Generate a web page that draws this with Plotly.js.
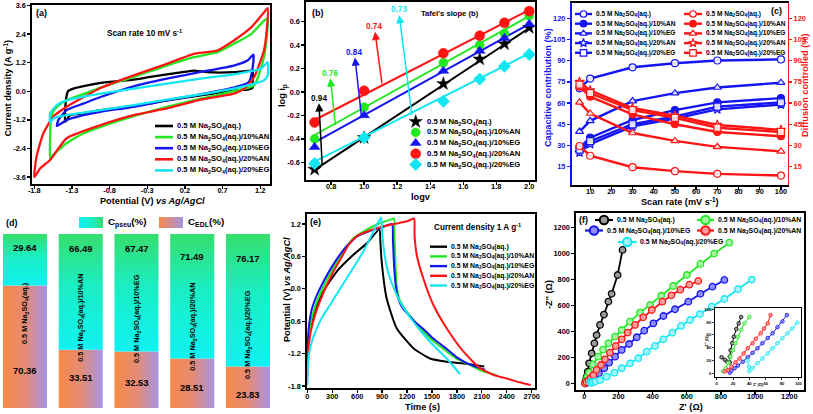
<!DOCTYPE html>
<html>
<head>
<meta charset="utf-8">
<script src="https://cdn.plot.ly/plotly-3.0.1.min.js"></script>
<style>
html,body{margin:0;padding:0;background:#fff;}
#chart{width:813px;height:414px;}
</style>
</head>
<body>
<div id="chart"></div>
<script>
// ===================== DATA =====================
const electrolytes = ['0.5 M Na2SO4(aq.)', '0.5 M Na2SO4(aq.)/10%AN', '0.5 M Na2SO4(aq.)/10%EG', '0.5 M Na2SO4(aq.)/20%AN', '0.5 M Na2SO4(aq.)/20%EG'];

// (a) cyclic voltammetry, 10 mV/s : potential (V) and current density (A/g)
const cvPotential0 = [-1.39,-1.38,-1.35,-1.28,-0.92,-0.48,-0.26,0.19,0.32,0.50,0.85,1.08,1.10, 1.10,1.10,1.05,0.85,0.41,-0.04,-0.26,-0.48,-0.92,-1.15,-1.32,-1.39];
const cvCurrent0   = [-1.28,-0.38,0.01,0.11,0.35,0.49,0.60,0.81,0.87,0.80,0.80,0.87,0.87, 0.46,0.15,0.08,0.04,-0.17,-0.38,-0.51,-0.62,-0.79,-0.93,-1.00,-1.28];
const cvPotential1 = [-1.59,-1.59,-1.58,-1.55,-1.48,-1.37,-1.15,-0.92,-0.70,-0.48,-0.25,-0.04,0.32,0.63,0.85,1.08,1.25,1.30, 1.29,1.25,1.12,0.85,0.41,-0.04,-0.48,-0.92,-1.15,-1.37,-1.55,-1.59];
const cvCurrent1   = [-2.85,-2.00,-1.20,-0.85,-0.60,-0.38,-0.12,0.15,0.38,0.60,0.85,1.08,1.43,1.64,1.99,2.40,2.96,3.03, 2.40,1.43,0.25,0.01,-0.31,-0.65,-1.04,-1.49,-1.77,-2.18,-2.67,-2.85];
const cvPotential2 = [-1.50,-1.48,-1.37,-1.15,-0.92,-0.48,-0.04,0.41,0.85,1.03,1.11, 1.10,1.05,0.85,0.41,-0.04,-0.48,-0.92,-1.15,-1.37,-1.50];
const cvCurrent2   = [-1.46,-1.21,-0.79,-0.52,-0.24,0.21,0.53,0.81,1.08,1.29,1.54, 1.00,0.39,0.15,-0.13,-0.38,-0.65,-0.86,-1.00,-1.21,-1.46];
const cvPotential3 = [-1.80,-1.77,-1.68,-1.55,-1.37,-1.15,-0.92,-0.48,-0.04,0.32,0.63,0.85,1.08,1.25,1.30, 1.29,1.25,1.12,0.99,0.85,0.41,-0.04,-0.48,-0.92,-1.37,-1.59,-1.72,-1.80];
const cvCurrent3   = [-3.60,-2.74,-1.77,-1.07,-0.65,-0.25,0.14,0.67,1.15,1.57,1.71,2.13,2.68,3.31,3.49, 2.68,1.71,0.60,0.11,-0.10,-0.35,-0.72,-1.00,-1.42,-1.97,-2.88,-3.23,-3.60];
const cvPotential4 = [-1.59,-1.59,-1.50,-1.37,-0.92,-0.48,-0.04,0.41,0.85,1.21,1.30, 1.30,1.25,1.12,0.85,0.41,-0.04,-0.48,-0.92,-1.37,-1.55,-1.59];
const cvCurrent4   = [-1.32,-0.93,-0.58,-0.38,-0.10,0.11,0.32,0.53,0.71,0.95,1.22, 0.67,0.46,0.32,0.11,-0.13,-0.35,-0.58,-0.79,-1.00,-1.14,-1.32];

// (b) log peak current vs log scan rate
const logScanRate = [0.70, 1.00, 1.48, 1.70, 1.85, 2.00];
const logIp0 = [-0.66,-0.39,0.07,0.28,0.41,0.55];
const logIp1 = [-0.40,-0.13,0.25,0.40,0.50,0.65];
const logIp2 = [-0.47,-0.20,0.18,0.35,0.46,0.58];
const logIp3 = [-0.26,0.01,0.33,0.48,0.59,0.69];
const logIp4 = [-0.61,-0.39,-0.08,0.11,0.22,0.32];
const fitLogV = [0.70, 2.00];
const fitLogIp0 = [-0.665, 0.545];
const fitLogIp1 = [-0.367, 0.648];
const fitLogIp2 = [-0.430, 0.580];
const fitLogIp3 = [-0.239, 0.700];
const fitLogIp4 = [-0.594, 0.330];
const tafelSlopes = [0.94, 0.76, 0.84, 0.74, 0.73];

// (c) capacitive / diffusion contribution (%)
const scanRates = [5, 10, 30, 50, 70, 100];
const capacitive0 = [70.4, 77.3, 85.3, 88.2, 90.1, 90.9];
const capacitive1 = [28.4, 35.5, 48.0, 55.0, 60.5, 63.5];
const capacitive2 = [39.8, 47.4, 61.4, 67.0, 71.0, 74.4];
const capacitive3 = [25.0, 31.0, 43.5, 49.0, 55.5, 59.0];
const capacitive4 = [27.0, 33.0, 45.0, 50.5, 57.5, 60.5];
const diffusion0 = [29.6, 22.7, 14.6, 11.8, 9.9, 8.7];
const diffusion1 = [71.6, 64.5, 52.0, 45.0, 39.5, 36.5];
const diffusion2 = [60.5, 52.6, 38.8, 33.2, 29.0, 25.8];
const diffusion3 = [75.0, 69.0, 56.5, 51.0, 44.5, 41.0];
const diffusion4 = [73.0, 67.0, 55.0, 49.5, 42.5, 39.5];

// (d) stacked contributions (%)
const cPseu = [29.64, 66.49, 67.47, 71.49, 76.17];
const cEDL  = [70.36, 33.51, 32.53, 28.51, 23.83];

// (e) galvanostatic charge-discharge, 1 A/g
const gcdTime0 = [0,12,72,193,353,554,714,867, 880,895,955,1075,1276,1476,1677,1918,2130];
const gcdPot0  = [-1.05,-0.92,-0.485,-0.05,0.32,0.63,0.84,1.10, 0.85,0.50,-0.18,-0.73,-1.10,-1.29,-1.35,-1.39,-1.44];
const gcdTime1 = [0,20,60,150,300,450,550,700,850,1000,1043, 1048,1060,1075,1110,1196,1300,1396,1500,1677,1800,1918,2100,2279];
const gcdPot1  = [-1.25,-0.85,-0.50,-0.10,0.35,0.72,0.93,1.08,1.20,1.28,1.30, 1.00,0.50,0.05,-0.20,-0.42,-0.62,-0.79,-0.95,-1.16,-1.30,-1.38,-1.52,-1.60];
const gcdTime2 = [0,15,50,120,200,300,450,600,750,900,1020, 1030,1045,1070,1110,1160,1230,1300,1400,1500,1650,1800,1950,2140];
const gcdPot2  = [-1.20,-0.75,-0.40,-0.10,0.15,0.42,0.75,0.97,1.07,1.14,1.20, 0.90,0.40,0.00,-0.25,-0.38,-0.50,-0.62,-0.75,-0.90,-1.08,-1.27,-1.40,-1.50];
const gcdTime3 = [0,10,40,100,200,300,400,500,600,750,900,1050,1200,1285, 1290,1316,1396,1517,1677,1877,2078,2250,2399,2550,2688];
const gcdPot3  = [-1.65,-1.20,-0.80,-0.45,-0.05,0.28,0.55,0.82,0.98,1.08,1.15,1.20,1.25,1.30, 1.00,0.63,0.19,-0.30,-0.73,-1.16,-1.47,-1.60,-1.66,-1.73,-1.78];
const gcdTime4 = [0,10,40,90,180,273,373,473,574,674,760,834,887, 895,915,950,995,1115,1276,1476,1677,1838];
const gcdPot4  = [-1.78,-1.35,-1.05,-0.82,-0.52,-0.30,-0.05,0.19,0.44,0.69,0.95,1.18,1.32, 1.15,0.81,0.45,0.19,-0.24,-0.61,-0.98,-1.29,-1.58];

// (f) Nyquist plots (ohm)
const zRe0 = [4,8,14,20,28,43,59,72,92,115,141,160,195,224];
const zIm0 = [0,21,51,89,154,231,308,372,450,530,630,690,835,1028];
const zRe1 = [4,10,18,28,50,82,110,141,180,219,267,326,385,450,520,600,680,760,849];
const zIm1 = [0,20,50,82,145,205,260,308,360,411,475,545,604,675,750,835,920,1000,1084];
const zRe2 = [8,15,25,40,60,86,117,145,180,219,262,307,351,404,463,531,609,680,750,820];
const zIm2 = [0,6,15,30,52,77,116,159,205,257,303,355,406,462,519,571,629,690,745,797];
const zRe3 = [4,12,25,38,53,72,98,121,150,184,219,254,297,345,395,457,510,562,615,667];
const zIm3 = [0,10,25,42,64,103,141,185,236,288,339,391,450,509,565,629,678,722,760,789];
const zRe4 = [35,40,50,65,92,131,176,219,268,316,365,414,463,515,566,619,677,746,820,900,980];
const zIm4 = [10,3,8,15,25,51,82,116,154,193,244,288,339,390,442,488,534,591,650,725,800];
// (f) inset, low-impedance region
const zReIn0 = [6,10,13,16,16,17,19,21,24,27,30];
const zImIn0 = [25,21,18,17,26,36,47,57,69,78,88];
const zReIn1 = [8,11,14,17,20,23,26,30,34,40];
const zImIn1 = [3,8,16,26,36,47,57,68,78,88];
const zReIn2 = [16,18,22,26,32,38,44,50,56,62.5,68.5,74.5,80.6,86];
const zImIn2 = [1,4,8,12,18,25,32,39,47,55,62.5,72,81,91];
const zReIn3 = [10,14,18,23,28,33,38,44,48,54,58,62.5,66];
const zImIn3 = [3,5,10,17,23,31,39,47,54,62.5,70,78,91];
const zReIn4 = [38,39.5,40,44,50,56,62.5,68.5,74.5,80.6,86.7,92.7,98.8];
const zImIn4 = [20,10,3,8,16,23,31,39,47,55,62.5,70,79];

// tick values
const ticksAx = [-1.8,-1.3,-0.8,-0.3,0.2,0.7,1.2];
const ticksAy = [-3.6,-2.4,-1.2,0.0,1.2,2.4,3.6];
const ticksBx = [0.8,1.0,1.2,1.4,1.6,1.8,2.0];
const ticksBy = [-0.6,-0.4,-0.2,0.0,0.2,0.4,0.6];
const ticksCx = [10,20,30,40,50,60,70,80,90,100];
const ticksCy = [15,30,45,60,75,90,105,120];
const ticksEx = [0,300,600,900,1200,1500,1800,2100,2400,2700];
const ticksEy = [-1.8,-1.2,-0.6,0.0,0.6,1.2];
const ticksFx = [0,200,400,600,800,1000,1200];
const ticksFy = [0,200,400,600,800,1000,1200];
const ticksInset = [0,20,40,60,80,100];

// ===================== STYLE / LAYOUT =====================
const W = 813, H = 414;
function hasFont(name){
  const ctx = document.createElement('canvas').getContext('2d');
  const s = 'Mm0.5 Na2SO4(aq.)/10%ANwi';
  ctx.font = 'bold 40px monospace'; const a = ctx.measureText(s).width;
  ctx.font = 'bold 40px "' + name + '", monospace'; const b = ctx.measureText(s).width;
  return Math.abs(a - b) > 0.5;
}
const NARROW = hasFont('Liberation Sans Narrow');
const FF = NARROW ? '"Liberation Sans Narrow", "Liberation Sans", Arial, sans-serif' : '"Liberation Sans", Arial, sans-serif';
const K = NARROW ? 1 : 0.82;
const fnt = (size, color) => ({family: FF, size: +(size * K).toFixed(2), color: color || '#000', weight: 'bold'});
const xd = (l, r) => [l / W, r / W];
const yd = (t, b) => [1 - b / H, 1 - t / H];
// sub/superscript as styled spans (smaller size, shifted baseline)
const SB = (t, size) => '<span style="font-size:' + (size * 0.7 * K).toFixed(1) + 'px;baseline-shift:-' + (size * 0.2 * K).toFixed(1) + 'px">' + t + '</span>';
const SP = (t, size) => '<span style="font-size:' + (size * 0.7 * K).toFixed(1) + 'px;baseline-shift:' + (size * 0.38 * K).toFixed(1) + 'px">' + t + '</span>';
const sub = (s, size) => s.replace('Na2SO4', 'Na' + SB('2', size) + 'SO' + SB('4', size));

const BLUE = '#1414f4', RED = '#ff1414';
const COLORS = ['#000000', '#22e822', '#1414f0', '#ff1414', '#12e6f2'];
const LIGHT = ['#9a9a9a', '#a6f4a6', '#8e8eff', '#ff9c9c', '#a6f4fa'];

function axis(domain, range, tickvals, digits, extra) {
  return Object.assign({
    domain: domain, range: range, tickvals: tickvals,
    ticktext: tickvals.map(v => v.toFixed(digits)),
    showgrid: false, zeroline: false, showline: true, mirror: true,
    linecolor: '#000', linewidth: 1.6, ticks: 'outside', ticklen: 3, tickwidth: 1.3,
    tickcolor: '#000', tickfont: fnt(9), fixedrange: true, automargin: false
  }, extra || {});
}

const traces = [];
const annotations = [];
function text(x, y, t, size, color, opts) {
  annotations.push(Object.assign({xref: 'x9', yref: 'y9', x: x, y: y, text: t, showarrow: false,
    xanchor: 'center', yanchor: 'middle', font: fnt(size, color)}, opts || {}));
}
function legLine(x0, x1, y, color, width) {
  traces.push({type: 'scatter', xaxis: 'x9', yaxis: 'y9', x: [x0, x1], y: [y, y], mode: 'lines',
    line: {color: color, width: width}, hoverinfo: 'skip', showlegend: false});
}
function legMarker(x, y, symbol, size, fill, edge, ew) {
  traces.push({type: 'scatter', xaxis: 'x9', yaxis: 'y9', x: [x], y: [y], mode: 'markers',
    marker: {symbol: symbol, size: size, color: fill, line: {color: edge, width: ew}}, hoverinfo: 'skip', showlegend: false});
}

// ---------- (a) ----------
const cvP = [cvPotential0, cvPotential1, cvPotential2, cvPotential3, cvPotential4];
const cvI = [cvCurrent0, cvCurrent1, cvCurrent2, cvCurrent3, cvCurrent4];
cvP.forEach((p, i) => traces.push({type: 'scatter', xaxis: 'x', yaxis: 'y', x: p, y: cvI[i], mode: 'lines',
  line: {color: COLORS[i], width: 2.3, shape: 'spline', smoothing: 0.5}, hoverinfo: 'skip'}));
[126, 137.1, 148.2, 159.3, 170.4].forEach((y, i) => {
  legLine(155, 173, y, COLORS[i], 2.6);
  text(175, y, sub(electrolytes[i], 9.3), 9.3, '#000', {xanchor: 'left'});
});
text(41, 13, '(a)', 11);
text(144, 33, 'Scan rate 10 mV s' + SP('-1', 10), 10);
text(7.5, 88, 'Current density (A g' + SP('-1', 11.2) + ')', 11.2, '#000', {textangle: -90});
text(152, 201, 'Potential (V) <i>vs Ag/AgCl</i>', 11.2);

// ---------- (b) ----------
const logIp = [logIp0, logIp1, logIp2, logIp3, logIp4];
const fits = [fitLogIp0, fitLogIp1, fitLogIp2, fitLogIp3, fitLogIp4];
const bSymbols = ['star', 'circle', 'triangle-up', 'circle', 'diamond'];
const bSizes = [10, 9, 9.5, 10, 9.5];
fits.forEach((f, i) => traces.push({type: 'scatter', xaxis: 'x2', yaxis: 'y2', x: fitLogV, y: f, mode: 'lines',
  line: {color: COLORS[i], width: 2}, hoverinfo: 'skip'}));
logIp.forEach((v, i) => traces.push({type: 'scatter', xaxis: 'x2', yaxis: 'y2', x: logScanRate, y: v, mode: 'markers',
  marker: {symbol: bSymbols[i], size: bSizes[i], color: COLORS[i], line: {color: COLORS[i], width: 0.5}}, hoverinfo: 'skip'}));
[121.7, 132.4, 143.1, 153.8, 164.5].forEach((y, i) => {
  legMarker(415.7, y, bSymbols[i], bSizes[i], COLORS[i], COLORS[i], 0.5);
  text(425, y, sub(electrolytes[i], 9.4), 9.4, '#000', {xanchor: 'left'});
});
// slope labels with arrows from the fit line: [tail x, tail y (on fit line), label x, label y]
const arrowGeom = [[0.746,-0.623,0.725,-0.054],[0.826,-0.281,0.792,0.159],
  [0.983,-0.196,0.941,0.338],[1.108,0.074,1.062,0.557],[1.289,-0.196,1.209,0.700]];
tafelSlopes.forEach((s, i) => {
  const g = arrowGeom[i];
  annotations.push({xref: 'x2', yref: 'y2', axref: 'x2', ayref: 'y2', x: g[0], y: g[1], ax: g[2], ay: g[3],
    text: s.toFixed(2), showarrow: true, arrowside: 'start', arrowhead: 2, startarrowhead: 2, startarrowsize: 1.1, arrowsize: 1.1,
    arrowwidth: 1.5, arrowcolor: COLORS[i], standoff: 0, startstandoff: 0, borderpad: 0, font: fnt(10, COLORS[i])});
});
text(318, 13, '(b)', 11);
text(450, 13, "Tafel's slope (b)", 9.3);
text(283, 96, 'log i' + SB('p', 11.2), 11.2, '#000', {textangle: -90});
text(421, 197, 'logv', 11.2);

// ---------- (c) ----------
const capacitive = [capacitive0, capacitive1, capacitive2, capacitive3, capacitive4];
const diffusion = [diffusion0, diffusion1, diffusion2, diffusion3, diffusion4];
const cSymbols = ['circle', 'circle', 'triangle-up', 'star', 'square'];
const cOpen = [true, false, true, true, true];
function cTrace(y, i, color, yaxis) {
  traces.push({type: 'scatter', xaxis: 'x3', yaxis: yaxis, x: scanRates, y: y, mode: 'lines+markers',
    line: {color: color, width: 2.4},
    marker: {symbol: cSymbols[i], size: 7, color: cOpen[i] ? 'rgba(255,255,255,0.85)' : color, line: {color: color, width: 1.2}},
    hoverinfo: 'skip'});
}
capacitive.forEach((v, i) => cTrace(v, i, BLUE, 'y3'));
diffusion.forEach((v, i) => cTrace(v, i, RED, 'y4'));
[14, 23.7, 33.4, 43.1, 52.8].forEach((y, i) => {
  [[575, 592, 594, BLUE], [684, 702, 703.5, RED]].forEach(c => {
    legLine(c[0], c[1], y, c[3], 2.4);
    legMarker((c[0] + c[1]) / 2, y, cSymbols[i], 6.5, cOpen[i] ? '#fff' : c[3], c[3], 1.2);
    text(c[2], y, sub(electrolytes[i], 8.0), 8.0, '#000', {xanchor: 'left'});
  });
});
text(776, 11, '(c)', 11);
text(548, 88, 'Capacitive contribution (%)', 11.2, BLUE, {textangle: -90});
text(805, 86, 'Diffusion controlled (%)', 11.2, RED, {textangle: -90});
text(680, 201, 'Scan rate (mV s' + SP('-1', 11.2) + ')', 11.2);

// ---------- (d) ----------
const PSEU_SCALE = [[0, '#10f2f2'], [0.55, '#1aeec4'], [1, '#36de6c']];
const EDL_SCALE = [[0, '#f68a48'], [0.5, '#e68c74'], [1, '#a694e2']];
const HW = 0.395;
cEDL.forEach((e, i) => {
  const top = e + cPseu[i];
  traces.push({type: 'scatter', xaxis: 'x5', yaxis: 'y5', x: [i - HW, i + HW, i + HW, i - HW, i - HW], y: [0, 0, e, e, 0],
    mode: 'lines', line: {width: 0, color: 'rgba(0,0,0,0)'}, fill: 'toself', fillcolor: '#e88c70',
    fillgradient: {type: 'horizontal', colorscale: EDL_SCALE}, hoverinfo: 'skip'});
  traces.push({type: 'scatter', xaxis: 'x5', yaxis: 'y5', x: [i - HW, i + HW, i + HW, i - HW, i - HW], y: [e, e, top, top, e],
    mode: 'lines', line: {width: 0, color: 'rgba(0,0,0,0)'}, fill: 'toself', fillcolor: '#1aeec4',
    fillgradient: {type: 'vertical', colorscale: PSEU_SCALE}, hoverinfo: 'skip'});
});
const dTopY = [92.5, 91.4, 91.4, 86.8, 86.2];
const dBotY = [21.3, 17.8, 14.4, 11.5, 7.5];
const dMidY = [54.6, 51.7, 51.4, 46.8, 42.5];
cPseu.forEach((v, i) => {
  annotations.push({xref: 'x5', yref: 'y5', x: i, y: dTopY[i], text: v.toFixed(2), showarrow: false, font: fnt(11.5)});
  annotations.push({xref: 'x5', yref: 'y5', x: i, y: dBotY[i], text: cEDL[i].toFixed(2), showarrow: false, font: fnt(11.5)});
  annotations.push({xref: 'x5', yref: 'y5', x: i, y: dMidY[i], text: sub(electrolytes[i], 8.9), textangle: -90, showarrow: false, font: fnt(8.9)});
});
// legend swatches
[[79, 103, PSEU_SCALE, 'C' + SB('pseu', 12) + '(%)', 106], [159, 183, [[0, '#f68a48'], [1, '#a694e2']], 'C' + SB('EDL', 12) + '(%)', 186]].forEach(s => {
  traces.push({type: 'scatter', xaxis: 'x9', yaxis: 'y9', x: [s[0], s[1], s[1], s[0], s[0]], y: [217, 217, 228, 228, 217],
    mode: 'lines', line: {width: 0, color: 'rgba(0,0,0,0)'}, fill: 'toself', fillcolor: s[2][0][1],
    fillgradient: {type: 'horizontal', colorscale: s[2]}, hoverinfo: 'skip'});
  text(s[4], 222, s[3], 12, '#000', {xanchor: 'left'});
});
text(12, 223, '(d)', 11);

// ---------- (e) ----------
const gcdT = [gcdTime0, gcdTime1, gcdTime2, gcdTime3, gcdTime4];
const gcdV = [gcdPot0, gcdPot1, gcdPot2, gcdPot3, gcdPot4];
gcdT.forEach((t, i) => traces.push({type: 'scatter', xaxis: 'x6', yaxis: 'y6', x: t, y: gcdV[i], mode: 'lines',
  line: {color: COLORS[i], width: 2, shape: 'spline', smoothing: 0.5}, hoverinfo: 'skip'}));
[246.7, 256.4, 266.1, 275.8, 285.5].forEach((y, i) => {
  legLine(430, 447, y, COLORS[i], 2.4);
  text(449, y, sub(electrolytes[i], 8.4), 8.4, '#000', {xanchor: 'left'});
});
text(315, 222, '(e)', 11);
text(477, 227, 'Current density 1 A g' + SP('-1', 10), 10);
text(287, 290, 'Potential (V) <i>vs Ag/AgCl</i>', 11.2, '#000', {textangle: -90});
text(422, 407, 'Time (s)', 11.2);

// ---------- (f) ----------
const zRe = [zRe0, zRe1, zRe2, zRe3, zRe4];
const zIm = [zIm0, zIm1, zIm2, zIm3, zIm4];
const zReIn = [zReIn0, zReIn1, zReIn2, zReIn3, zReIn4];
const zImIn = [zImIn0, zImIn1, zImIn2, zImIn3, zImIn4];
zRe.forEach((x, i) => traces.push({type: 'scatter', xaxis: 'x7', yaxis: 'y7', x: x, y: zIm[i], mode: 'lines+markers',
  line: {color: COLORS[i], width: 1.8}, marker: {symbol: 'circle', size: 6.5, color: LIGHT[i], line: {color: COLORS[i], width: 1.3}},
  hoverinfo: 'skip'}));
zReIn.forEach((x, i) => traces.push({type: 'scatter', xaxis: 'x8', yaxis: 'y8', x: x, y: zImIn[i], mode: 'lines+markers',
  line: {color: COLORS[i], width: 1}, marker: {symbol: 'circle', size: 3.6, color: LIGHT[i], line: {color: COLORS[i], width: 0.8}},
  hoverinfo: 'skip'}));
// legend: [line x0, line x1, text x, y]
const fLeg = [[595, 613, 615, 220], [697, 714, 716, 220], [585, 603, 605, 230.5], [697, 714, 716, 230.5], [618, 636.5, 638, 242]];
fLeg.forEach((g, i) => {
  legLine(g[0], g[1], g[3], COLORS[i], 2.2);
  legMarker((g[0] + g[1]) / 2, g[3], 'circle', 8.5, LIGHT[i], COLORS[i], 2);
  text(g[2], g[3], sub(electrolytes[i], 8.4), 8.4, '#000', {xanchor: 'left'});
});
text(583, 220, '(f)', 11);
text(549, 295, "-Z'' (Ω)", 11.2, '#000', {textangle: -90});
text(691, 407, "Z' (Ω)", 11.2);
text(758, 384.5, "Z' (Ω)", 4.8);
text(706, 342, "-Z'' (Ω)", 4.8, '#000', {textangle: -90});

// ---------- layout ----------
const inAx = {linewidth: 1, ticklen: 2, tickwidth: 0.8, tickfont: fnt(5)};
const layout = {
  width: W, height: H, margin: {l: 0, r: 0, t: 0, b: 0, pad: 0},
  paper_bgcolor: '#ffffff', plot_bgcolor: 'rgba(0,0,0,0)', showlegend: false,
  font: {family: FF, color: '#000'},
  xaxis: axis(xd(32, 270), [-1.83, 1.33], ticksAx, 1, {anchor: 'y', ticklabelstandoff: -4}),
  yaxis: axis(yd(5, 184), [-3.89, 3.62], ticksAy, 1, {anchor: 'x'}),
  xaxis2: axis(xd(306, 535), [0.648, 2.035], ticksBx, 1, {anchor: 'y2', ticklabelstandoff: -4}),
  yaxis2: axis(yd(2, 180), [-0.751, 0.768], ticksBy, 1, {anchor: 'x2'}),
  xaxis3: axis(xd(571.5, 787.5), [1.2, 103.1], ticksCx, 0, {anchor: 'y3', ticklabelstandoff: -4}),
  yaxis3: axis(yd(3, 185), [2, 130.8], ticksCy, 0, {anchor: 'x3', mirror: false, linecolor: BLUE, tickcolor: BLUE, tickfont: fnt(9, BLUE)}),
  yaxis4: axis(yd(3, 185), [2, 130.8], ticksCy, 0, {anchor: 'x3', overlaying: 'y3', side: 'right', mirror: false, linecolor: RED, tickcolor: RED, tickfont: fnt(9, RED)}),
  xaxis5: {domain: xd(3, 270), range: [-0.395, 4.395], visible: false, fixedrange: true, anchor: 'y5'},
  yaxis5: {domain: yd(234, 408), range: [0, 100], visible: false, fixedrange: true, anchor: 'x5'},
  xaxis6: axis(xd(307, 535), [-4, 2740], ticksEx, 0, {anchor: 'y6', ticklabelstandoff: -2}),
  yaxis6: axis(yd(214, 388), [-1.837, 1.385], ticksEy, 1, {anchor: 'x6'}),
  xaxis7: axis(xd(576, 804), [-48.6, 1286], ticksFx, 0, {anchor: 'y7', ticklabelstandoff: -4}),
  yaxis7: axis(yd(213, 390), [-51.7, 1313], ticksFy, 0, {anchor: 'x7'}),
  xaxis8: axis(xd(715, 801), [-2.1, 103.3], ticksInset, 0, Object.assign({anchor: 'y8'}, inAx)),
  yaxis8: axis(yd(308, 377), [-5.8, 102], ticksInset, 0, Object.assign({anchor: 'x8'}, inAx)),
  xaxis9: {domain: [0, 1], range: [0, W], visible: false, fixedrange: true, anchor: 'y9'},
  yaxis9: {domain: [0, 1], range: [H, 0], visible: false, fixedrange: true, anchor: 'x9'},
  annotations: annotations
};
Plotly.newPlot('chart', traces, layout, {staticPlot: true, displayModeBar: false});
</script>
</body>
</html>
